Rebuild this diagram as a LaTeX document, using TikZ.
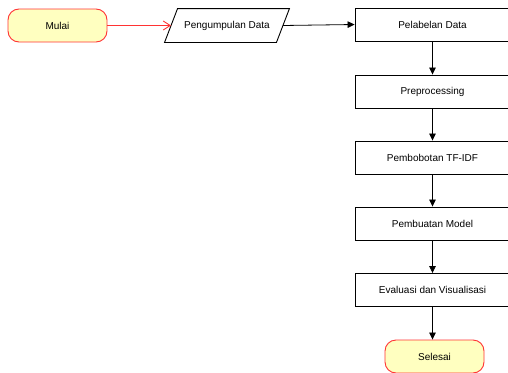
\documentclass[tikz,border=0pt]{standalone}
\usepackage{fontspec}
\setmainfont{Liberation Sans}
\usetikzlibrary{arrows.meta}
\definecolor{termfill}{HTML}{FFFFC0}
\definecolor{termline}{HTML}{FF3333}
\tikzset{
  base/.style={font=\fontsize{10}{12}\selectfont, inner sep=0pt, line width=0.9pt},
  term/.style={base, draw=termline, fill=termfill, rounded corners=11pt, minimum width=99pt, minimum height=33pt},
  procbox/.style={base, draw=black, fill=white, minimum width=155pt, minimum height=33pt},
  iobox/.style={base, minimum width=111pt, minimum height=33pt},
  flow/.style={line width=0.8pt, -{Triangle[length=7pt,width=6.5pt]}},
  redflow/.style={line width=0.9pt, draw=termline, -{Straight Barb[length=7pt,width=9pt]}}
}
\begin{document}
\begin{tikzpicture}[x=1pt,y=-1pt]
\useasboundingbox (0,0) rectangle (508,372);
\begin{scope}
\clip (0,0) rectangle (508,372);
\node[term] (mulai) at (57.5,25.5) {Mulai};
\node[iobox] (pd) at (227,25.5) {Pengumpulan Data};
\draw[line width=0.9pt] ([xshift=6.5pt]pd.north west) -- ([xshift=6.5pt]pd.north east) -- ([xshift=-6.5pt]pd.south east) -- ([xshift=-6.5pt]pd.south west) -- cycle;
\node[procbox] (b1) at (432.5,24.5) {Pelabelan Data};
\node[procbox] (b2) at (432.5,91.5) {Preprocessing};
\node[procbox] (b3) at (432.5,157.5) {Pembobotan TF-IDF};
\node[procbox] (b4) at (432.5,223.5) {Pembuatan Model};
\node[procbox] (b5) at (432.5,290) {Evaluasi dan Visualisasi};
\node[term] (sel) at (434.5,356.5) {Selesai};
\draw[redflow] (mulai) -- (pd);
\draw[flow] (pd.east) -- (b1.west);
\draw[flow] (b1) -- (b2);
\draw[flow] (b2) -- (b3);
\draw[flow] (b3) -- (b4);
\draw[flow] (b4) -- (b5);
\draw[flow] (b5.south) -- (b5.south |- sel.north);
\end{scope}
\end{tikzpicture}
\end{document}
